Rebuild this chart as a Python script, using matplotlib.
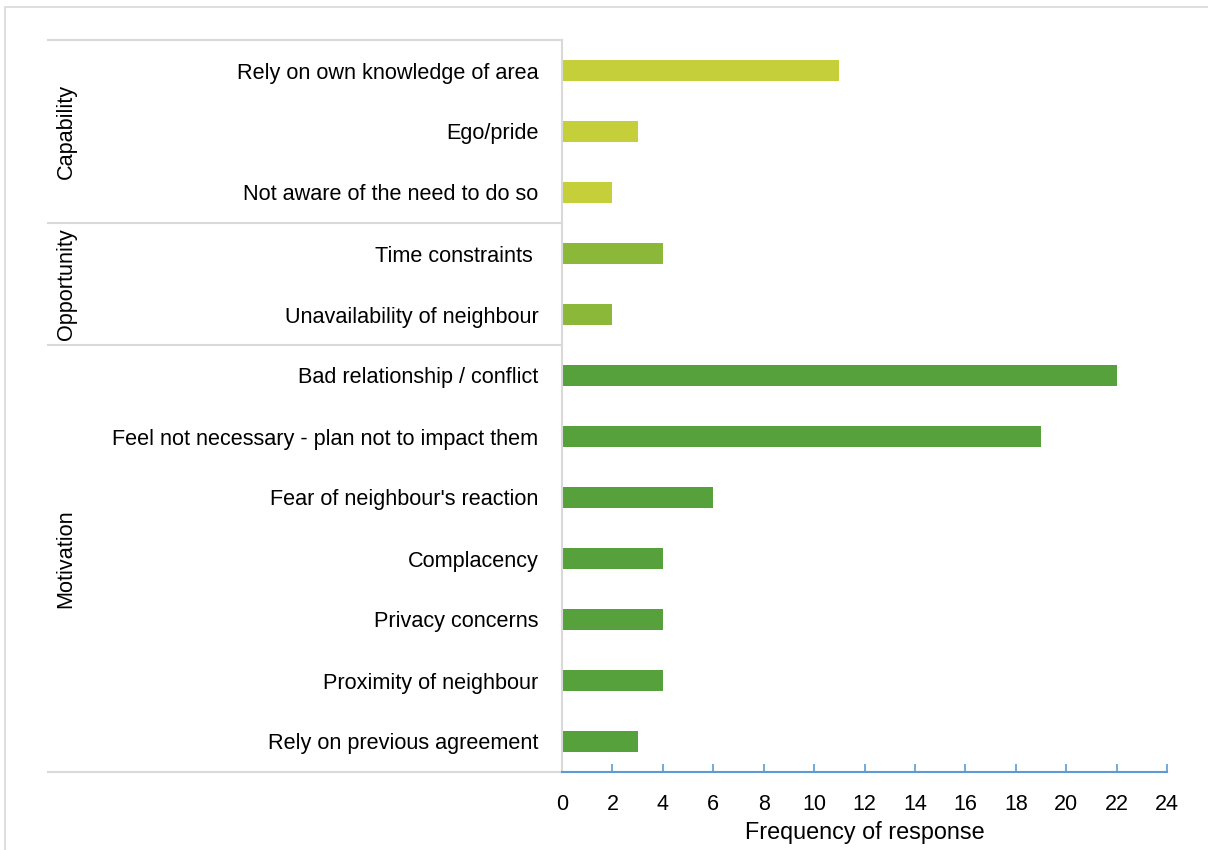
import matplotlib.pyplot as plt
from matplotlib.patches import Rectangle
from matplotlib.transforms import blended_transform_factory

plt.rcParams['font.family'] = ['Liberation Sans', 'DejaVu Sans']

# barriers to talking with the neighbour, grouped by COM-B domain
reasons = ['Rely on own knowledge of area', 'Ego/pride', 'Not aware of the need to do so',
           'Time constraints ', 'Unavailability of neighbour',
           'Bad relationship / conflict', 'Feel not necessary - plan not to impact them',
           "Fear of neighbour's reaction", 'Complacency', 'Privacy concerns',
           'Proximity of neighbour', 'Rely on previous agreement']
counts = [11, 3, 2, 4, 2, 22, 19, 6, 4, 4, 4, 3]
groups = ['Capability', 'Opportunity', 'Motivation']
group_sizes = [3, 2, 7]
group_colors = ['#c4cf3a', '#8cb83a', '#56a13c']
xticks = list(range(0, 25, 2))

W, H = 1208, 850
fig = plt.figure(figsize=(W / 100, H / 100), dpi=100)
ax = fig.add_axes([562 / W, 1 - 772 / H, (1167 - 562) / W, (772 - 40) / H])

colors = []
for c, n in zip(group_colors, group_sizes):
    colors += [c] * n
ypos = list(range(len(reasons)))
ax.barh(ypos, counts, height=0.36, color=colors)
ax.set_ylim(len(reasons) - 0.5, -0.5)
ax.set_xlim(0, 24)

ax.set_yticks(ypos)
ax.set_yticklabels(reasons, fontsize=15.6)
ax.tick_params(axis='y', length=0, pad=17)
ax.set_xticks(xticks)
ax.tick_params(axis='x', direction='in', length=6, color='#5b9bd5', width=1.2,
               labelsize=15.5, pad=16)
ax.set_xlabel('Frequency of response', fontsize=16.8, labelpad=4)

for s in ['top', 'right']:
    ax.spines[s].set_visible(False)
ax.spines['left'].set_color('#d9d9d9')
ax.spines['left'].set_linewidth(1.5)
ax.spines['bottom'].set_color('#5b9bd5')
ax.spines['bottom'].set_linewidth(1.5)

# group separators and labels to the left of the category axis
tr = blended_transform_factory(ax.transAxes, ax.transData)
x_left = (48 - 562) / (1167 - 562)
edges = [-0.5]
for n in group_sizes:
    edges.append(edges[-1] + n)
for e in edges:
    ax.plot([x_left, 0], [e, e], transform=tr, color='#d9d9d9', lw=1.5, clip_on=False)
x_lab = (66 - 562) / (1167 - 562)
for g, a, b in zip(groups, edges[:-1], edges[1:]):
    ax.text(x_lab, (a + b) / 2, g, transform=tr, rotation=90, ha='center', va='center',
            fontsize=15.6)

# outer chart frame
fig.patches.append(Rectangle((5 / W, -0.1), 1.2, 1.1 - 7 / H, transform=fig.transFigure,
                             fill=False, edgecolor='#d9d9d9', lw=1.2))

fig.savefig('out.png', dpi=100)
